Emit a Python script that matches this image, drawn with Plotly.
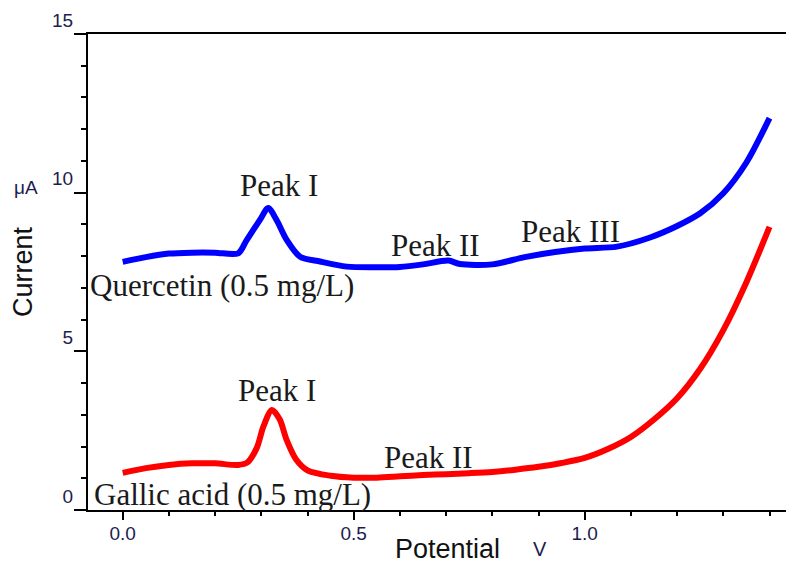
import plotly.graph_objects as go

# Potential (V) and current (uA)
quercetin_x = [0.00, 0.05, 0.10, 0.15, 0.20, 0.25, 0.268, 0.297, 0.315, 0.333, 0.355,
               0.384, 0.427, 0.485, 0.55, 0.60, 0.65, 0.705, 0.73, 0.80, 0.87, 0.936,
               1.00, 1.07, 1.14, 1.20, 1.25, 1.30, 1.35, 1.40]
quercetin_y = [7.82, 7.97, 8.08, 8.11, 8.11, 8.09, 8.50, 9.14, 9.52, 9.14, 8.51,
               7.98, 7.83, 7.67, 7.65, 7.66, 7.74, 7.86, 7.75, 7.74, 7.97, 8.13,
               8.24, 8.30, 8.58, 8.95, 9.35, 9.98, 10.95, 12.35]

gallic_x = [0.00, 0.05, 0.10, 0.15, 0.20, 0.25, 0.27, 0.29, 0.305, 0.323, 0.34,
            0.355, 0.375, 0.40, 0.45, 0.50, 0.55, 0.60, 0.65, 0.70, 0.75, 0.80,
            0.85, 0.90, 0.95, 1.00, 1.05, 1.10, 1.15, 1.20, 1.25, 1.30, 1.35, 1.40]
gallic_y = [1.17, 1.32, 1.42, 1.47, 1.47, 1.42, 1.50, 1.95, 2.65, 3.15, 2.85,
            2.20, 1.60, 1.25, 1.08, 1.02, 1.02, 1.06, 1.10, 1.13, 1.16, 1.20,
            1.27, 1.36, 1.48, 1.64, 1.92, 2.30, 2.85, 3.52, 4.45, 5.67, 7.18, 8.92]

x_ticks = [0.0, 0.5, 1.0]
y_ticks = [0, 5, 10, 15]

# text labels: (text, x, y) in data coordinates
labels = [
    ("Peak I", 0.338, 10.23),
    ("Peak II", 0.676, 8.35),
    ("Peak III", 0.970, 8.79),
    ("Quercetin (0.5 mg/L)", 0.214, 7.09),
    ("Peak I", 0.334, 3.78),
    ("Peak II", 0.661, 1.64),
    ("Gallic acid (0.5 mg/L)", 0.237, 0.50),
]

fig = go.Figure()
fig.add_trace(go.Scatter(x=quercetin_x, y=quercetin_y, mode="lines",
                         line=dict(color="#0000ff", width=6, shape="spline", smoothing=0.8),
                         showlegend=False, hoverinfo="skip"))
fig.add_trace(go.Scatter(x=gallic_x, y=gallic_y, mode="lines",
                         line=dict(color="#ff0000", width=6, shape="spline", smoothing=0.8),
                         showlegend=False, hoverinfo="skip"))

for txt, lx, ly in labels:
    fig.add_annotation(x=lx, y=ly, xref="x", yref="y", text=txt, showarrow=False,
                       font=dict(family="Liberation Serif", size=31, color="#1a1a1a"),
                       xanchor="center", yanchor="middle")

# page is offset by the 8px body margin
OFF = 8
W, H = 794 - OFF, 563 - OFF
L, R, T, B = 88 - OFF, 0, 34 - OFF, 53


def px_to_paper(px, py):
    return ((px - OFF) - L) / (W - L - R), (H - B - (py - OFF)) / (H - T - B)


axis_titles = [
    ("Current", 23, 272, 27, "#111111", -90),
    ("Potential", 447, 549, 27, "#111111", 0),
    ("V", 540, 549, 20, "#1c1c50", 0),
    ("μA", 26, 188, 19, "#1c1c50", 0),
]
for txt, px, py, size, col, ang in axis_titles:
    ax_, ay_ = px_to_paper(px, py)
    fig.add_annotation(x=ax_, y=ay_, xref="paper", yref="paper", text=txt, showarrow=False,
                       textangle=ang, font=dict(family="Liberation Sans", size=size, color=col),
                       xanchor="center", yanchor="middle")

fig.update_layout(
    width=W, height=H,
    margin=dict(l=L, r=R, t=T, b=B),
    paper_bgcolor="white", plot_bgcolor="white",
    xaxis=dict(range=[-0.0751, 1.453], tickvals=x_ticks, tickformat=".1f",
               ticks="outside", ticklen=8, tickwidth=1.5, tickcolor="black",
               showline=True, linecolor="black", linewidth=2, mirror=True,
               showgrid=False, zeroline=False,
               tickfont=dict(family="Liberation Sans", size=19, color="#1c1c50"),
               ticklabelstandoff=-3,
               minor=dict(dtick=0.1, tick0=0, ticks="outside", ticklen=4,
                          tickwidth=1.5, tickcolor="black", showgrid=False)),
    yaxis=dict(range=[0, 15], tickvals=y_ticks,
               ticks="outside", ticklen=12, tickwidth=1.5, tickcolor="black",
               showline=True, linecolor="black", linewidth=2,
               showgrid=False, zeroline=False,
               ticklabelposition="outside top", ticklabelstandoff=9,
               tickfont=dict(family="Liberation Sans", size=19, color="#1c1c50"),
               minor=dict(dtick=1, tick0=0, ticks="outside", ticklen=5,
                          tickwidth=1.5, tickcolor="black", showgrid=False)),
)

fig.write_html("out.html")
